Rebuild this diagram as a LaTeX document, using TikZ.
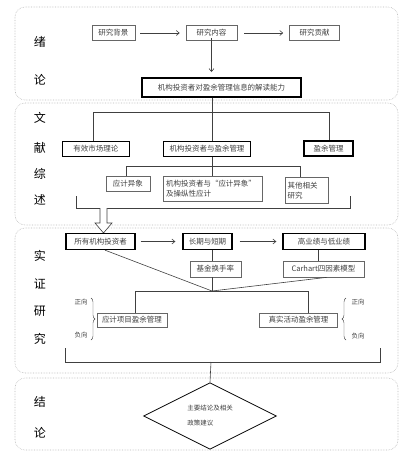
\documentclass[tikz,border=0pt]{standalone}
\usepackage{fontspec}
\newfontfamily\cjk{Noto Sans CJK SC}
\usetikzlibrary{shapes.geometric,shapes.arrows,decorations.pathreplacing,arrows.meta}
\definecolor{ink}{gray}{0.25}
\tikzset{
  frame/.style={draw=gray!55, densely dotted, rounded corners=10pt, line width=0.6pt},
  sec/.style={font=\cjk\fontsize{12}{14}\selectfont, text=black},
  bx/.style={draw=ink!80, line width=0.6pt, inner sep=0pt, font=\cjk\fontsize{7.5}{10}\selectfont, text=ink},
  tbx/.style={bx, draw=black, line width=1.3pt},
  ln/.style={draw=ink, line width=0.6pt},
  arr/.style={ln, -{Straight Barb[length=3pt,width=5pt]}},
  lbl/.style={font=\cjk\fontsize{6.5}{8}\selectfont, text=ink, inner sep=0pt}
}
\begin{document}
\begin{tikzpicture}[x=1pt,y=-1pt]
\useasboundingbox (0,0) rectangle (411,459);
% frames
\draw[frame] (15,7) rectangle (398,100);
\draw[frame] (15,103) rectangle (398,225);
\draw[frame] (15,228) rectangle (398,373);
\draw[frame] (15,378) rectangle (398,450);
% section labels
\node[sec] (s1a) at (40,42) {绪};
\node[sec] (s1b) at (40,80) {论};
\node[sec] (s2a) at (40,118) {文};
\node[sec] (s2b) at (40,148) {献};
\node[sec] (s2c) at (40,174) {综};
\node[sec] (s2d) at (40,200) {述};
\node[sec] (s3a) at (40,256) {实};
\node[sec] (s3b) at (40,284) {证};
\node[sec] (s3c) at (40,311) {研};
\node[sec] (s3d) at (40,339) {究};
\node[sec] (s4a) at (40,402) {结};
\node[sec] (s4b) at (40,433) {论};
% section 1
\node[bx, minimum width=43, minimum height=15] (bg) at (113.5,33) {研究背景};
\node[bx, minimum width=51, minimum height=15] (nr) at (211.5,33) {研究内容};
\node[bx, minimum width=50, minimum height=15] (gx) at (314.5,33) {研究贡献};
\node[tbx, minimum width=159, minimum height=19] (jd) at (221.5,87.5) {机构投资者对盈余管理信息的解读能力};
\draw[arr] (bg.east) ++(5,0) coordinate (a1s) -- ([xshift=-6]nr.west);
\draw[arr] ([xshift=7]nr.east) -- ([xshift=-6]gx.west);
\draw[arr] ([yshift=3]nr.south) -- (211.5,72) coordinate (a3e);
% section 2
\node[tbx, minimum width=67, minimum height=15] (yx) at (96,149) {有效市场理论};
\node[tbx, minimum width=87, minimum height=15] (jg) at (207,149) {机构投资者与盈余管理};
\node[tbx, minimum width=49, minimum height=15] (yy) at (328.5,148.5) {盈余管理};
\coordinate (t2) at (212,112);
\draw[ln] (jd.south -| t2) -- (t2);
\draw[ln] (yx.north -| 93,0) -- (93,112) -- (329,112) -- (yy.north -| 329,0);
\draw[ln] (t2) -- (jg.north -| t2);
\node[bx, minimum width=44, minimum height=15] (yc) at (128,184) {应计异象};
\node[bx, minimum width=99, minimum height=25, align=left, text width=93] (jy) at (212.5,189) {机构投资者与“应计异象”\\及操纵性应计};
\node[bx, minimum width=43, minimum height=26, align=left, text width=38] (qt) at (306.5,190.5) {其他相关\\研究};
\draw[ln] (jg.south -| 212,0) -- (212,166);
\draw[ln] (yc.north -| 126,0) -- (126,166) -- (300,166) -- (qt.north -| 300,0);
\draw[ln] (212,166) -- (jy.north -| 212,0);
\coordinate (b2l) at (76,196);
\coordinate (b2r) at (350,196);
\draw[ln] (b2l) -- (76,208) -- (350,208) -- (b2r);
% hollow arrow
\draw[ln, fill=white] (100,208) -- (100,223) -- (95,223) -- (103.5,233) -- (112,223) -- (107,223) -- (107,208);
% section 3
\node[tbx, minimum width=69, minimum height=16] (sy) at (100.5,241.5) {所有机构投资者};
\node[tbx, minimum width=49, minimum height=16] (cq) at (207.5,241.5) {长期与短期};
\node[tbx, minimum width=82, minimum height=16] (gy) at (324,241.5) {高业绩与低业绩};
\draw[arr] ([xshift=5]sy.east) -- ([xshift=-7]cq.west);
\draw[arr] ([xshift=7]cq.east) -- ([xshift=-6]gy.west);
\node[bx, minimum width=51, minimum height=16] (hs) at (215.5,269) {基金换手率};
\node[bx, minimum width=81, minimum height=16] (ca) at (323.5,269) {Carhart四因素模型};
\coordinate (cv) at (212,291);
\draw[ln] (cq.south -| 212,0) -- (hs.north -| 212,0);
\draw[ln] (gy.south -| 318,0) -- (ca.north -| 318,0);
\draw[ln] (hs.south -| 212,0) -- (cv);
\draw[ln] (sy.south -| 105,0) -- (cv);
\draw[ln] (ca.south -| 327,0) -- (cv);
\node[bx, minimum width=70, minimum height=14] (yj) at (132,320) {应计项目盈余管理};
\node[bx, minimum width=78, minimum height=14] (zs) at (298.5,320) {真实活动盈余管理};
\draw[ln] (yj.north -| 135,0) -- (135,291) -- (308,291) -- (zs.north -| 308,0);
% braces
\node[lbl] (lz) at (81,302) {正向};
\node[lbl] (lf) at (81,335) {负向};
\draw[ln, line width=0.4pt, decorate, decoration={brace, amplitude=4pt}] (91,298) -- (91,340) coordinate (lbe);
\node[lbl] (rz) at (358,302) {正向};
\node[lbl] (rf) at (358,336) {负向};
\draw[ln, line width=0.4pt, decorate, decoration={brace, amplitude=4pt}] (346,340) -- (346,298) coordinate (rbe);
% bottom bracket
\draw[ln] (65,348) -- (65,362) -- (380,362) -- (380,348);
% section 4
\node[draw=black, line width=0.8pt, diamond, minimum width=133, minimum height=52, inner sep=0pt, font=\cjk\fontsize{6.5}{15}\selectfont, text=ink, align=left] (dm) at (210,416) {主要结论及相关\\政策建议};
\draw[ln] (211,362) -- (dm.north);
\end{tikzpicture}
\end{document}
